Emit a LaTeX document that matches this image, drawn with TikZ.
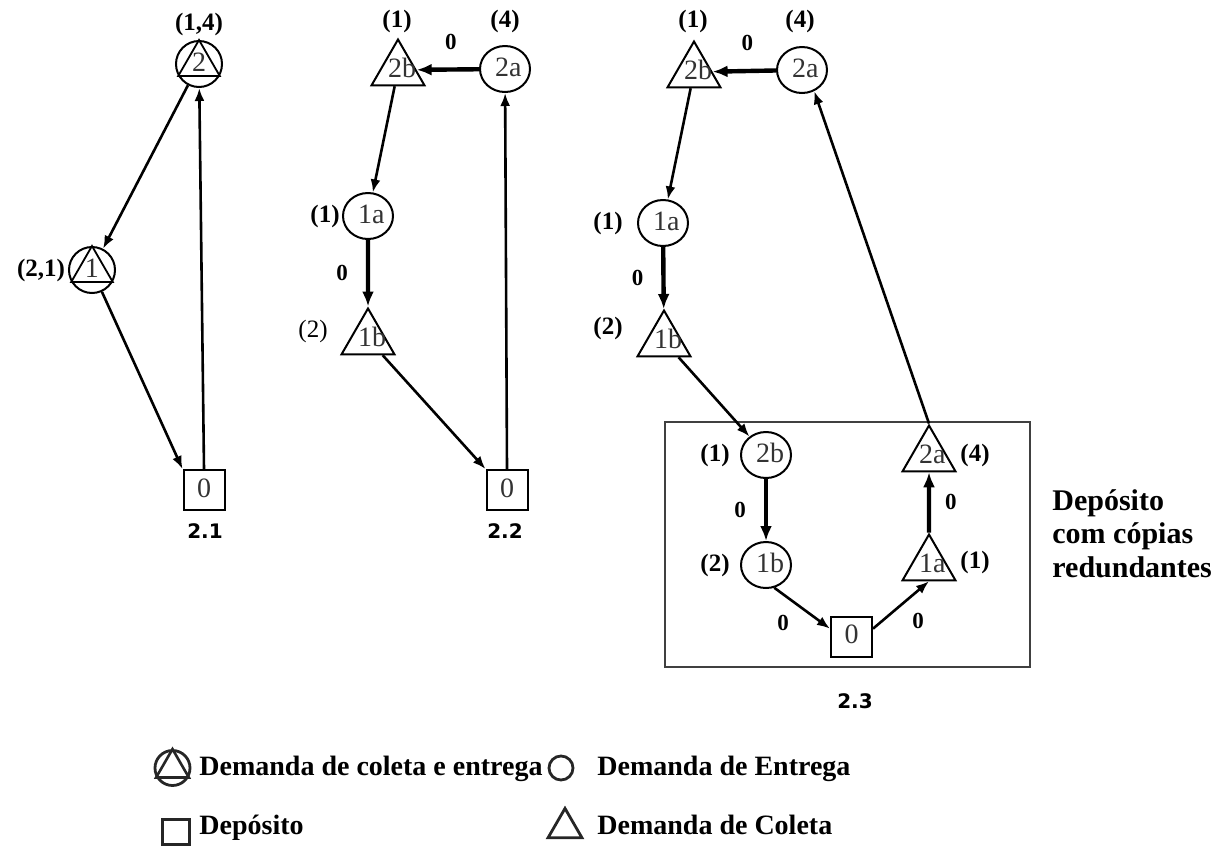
\documentclass[tikz,border=0pt]{standalone}
\usepackage{fontspec}
\setmainfont{Liberation Serif}
\newfontfamily\capfont{DejaVu Sans}
\usetikzlibrary{shapes.geometric,arrows.meta}
\begin{document}
\begin{tikzpicture}[x=0.5pt,y=-0.5pt,
  lab/.style={font=\fontsize{12.5}{15}\selectfont\bfseries, inner sep=0pt},
  labr/.style={font=\fontsize{12.5}{15}\selectfont, inner sep=0pt},
  zero/.style={font=\fontsize{11.5}{13}\selectfont\bfseries, inner sep=0pt},
  nt/.style={font=\fontsize{14}{16}\selectfont, text=black!80, text width=10pt, align=center, text height=7pt, text depth=0pt},
  cnode/.style={circle, draw, line width=1pt, minimum size=23pt, inner sep=0pt, nt},
  enode/.style={ellipse, draw, line width=1pt, minimum width=25pt, minimum height=23pt, inner sep=0pt, nt},
  tnode/.style={regular polygon, regular polygon sides=3, draw, line width=1pt, minimum size=30.5pt, inner sep=0pt, nt},
  snode/.style={rectangle, draw, line width=1pt, minimum width=20.5pt, minimum height=20pt, inner sep=0pt, nt},
  arr/.style={-{Latex[length=6.5pt,width=5pt]}, line width=1.3pt},
  tarr/.style={-{Latex[length=7.5pt,width=6pt]}, line width=2.2pt},
  figcap/.style={font=\capfont\bfseries\fontsize{10}{12}\selectfont, inner sep=0pt},
  leg/.style={font=\fontsize{14}{16}\selectfont\bfseries, inner sep=0pt, anchor=base west},
  legicon/.style={draw=black!85, line width=1.4pt, inner sep=0pt},
]
\useasboundingbox (0,0) rectangle (1232,847);

% ---------- 2.1 ----------
\node[cnode] (a2) at (199,64) {2};
\node[cnode] (a1) at (92,270) {1};
\node[snode] (a0) at (204,490) {0};
\foreach \n in {a2,a1}{\draw[line width=0.9pt] (\n.north) -- (\n.210) -- (\n.330) -- cycle;}
\node[lab] (la2) at (199,24) {(1,4)};
\node[lab] (la1) at (41,270) {(2,1)};
\draw[arr] (a2) -- (a1);
\draw[arr] (a1) -- (a0.north west);
\draw[arr] (a0.north) -- (a2);
\node[figcap] (c1) at (205,531) {2.1};

% ---------- 2.2 ----------
\node[tnode] (b2b) at (398,70) {2b};
\node[enode] (b2a) at (505,69) {2a};
\node[enode] (b1a) at (368,216) {1a};
\node[tnode] (b1b) at (368,339) {1b};
\node[snode] (b0) at (507,490) {0};
\node[lab] (lb2b) at (397,21) {(1)};
\node[lab] (lb2a) at (505,21) {(4)};
\node[lab] (lb1a) at (325,216) {(1)};
\node[labr] (lb1b) at (313,331) {(2)};
\draw[tarr] (b2a) -- (b2b) node[zero, pos=0.45, above=9pt] (zb1) {0};
\draw[arr] (b2b) -- (b1a);
\draw[tarr] (b1a) -- (b1b) node[zero, midway, left=9pt] (zb2) {0};
\draw[arr] (b1b) -- (b0.north west);
\draw[arr] (b0.north) -- (b2a);
\node[figcap] (c2) at (505,531) {2.2};

% ---------- 2.3 ----------
\node[tnode] (e2b) at (694,72) {2b};
\node[enode] (e2a) at (802,70) {2a};
\node[enode] (e1a) at (663,223) {1a};
\node[tnode] (e1b) at (664,341) {1b};
\node[lab] (le2b) at (693,21) {(1)};
\node[lab] (le2a) at (800,21) {(4)};
\node[lab] (le1a) at (608,223) {(1)};
\node[lab] (le1b) at (608,328) {(2)};

\draw[line width=0.8pt, draw=black!75] (665,422) rectangle (1030,667);
\node[enode] (d2b) at (766,455) {2b};
\node[enode] (d1b) at (766,565) {1b};
\node[snode] (d0) at (851.5,636.5) {0};
\node[tnode] (d1a) at (929,565) {1a};
\node[tnode] (d2a) at (929,456) {2a};
\node[lab] (ld2b) at (715,455) {(1)};
\node[lab] (ld1b) at (715,565) {(2)};
\node[lab] (ld2a) at (975,455) {(4)};
\node[lab] (ld1a) at (975,562) {(1)};

\draw[tarr] (e2a) -- (e2b) node[zero, pos=0.45, above=9pt] (ze1) {0};
\draw[arr] (e2b) -- (e1a);
\draw[tarr] (e1a) -- (e1b) node[zero, midway, left=9pt] (ze2) {0};
\draw[arr] (e1b) -- (d2b);
\draw[tarr] (d2b) -- (d1b) node[zero, midway, left=9pt] (zd1) {0};
\draw[arr] (d1b.-70) -- (d0.160);
\draw[arr] (d0.20) -- (d1a.south);
\draw[tarr] (d1a) -- (d2a) node[zero, midway, right=7pt] (zd2) {0};
\draw[arr] (d2a.north) -- (e2a.-60);
\node[zero] (zd3) at (783,623) {0};
\node[zero] (zd4) at (918,621) {0};
\node[figcap] (c3) at (855,701) {2.3};

\node[leg, font=\fontsize{15}{17}\selectfont\bfseries] (dep1) at (1052,510) {Depósito};
\node[leg, font=\fontsize{15}{17}\selectfont\bfseries] (dep2) at (1052,543) {com cópias};
\node[leg, font=\fontsize{15}{17}\selectfont\bfseries] (dep3) at (1052,577) {redundantes};

% ---------- legend ----------
\node[legicon, circle, minimum size=17.5pt] (ic1) at (172.5,768) {};
\draw[line width=1.3pt, draw=black!85] (ic1.north) -- (ic1.210) -- (ic1.330) -- cycle;
\node[leg] (t1) at (199,775) {Demanda de coleta e entrega};
\node[legicon, circle, minimum size=12pt] (ic2) at (561,768) {};
\node[leg] (t2) at (597,775) {Demanda de Entrega};
\node[legicon, rectangle, line width=1.7pt, minimum width=13.5pt, minimum height=12.5pt] (ic3) at (176,832) {};
\node[leg] (t3) at (199,834) {Depósito};
\node[legicon, regular polygon, regular polygon sides=3, minimum size=19.6pt] (ic4) at (565,828) {};
\node[leg] (t4) at (597,834) {Demanda de Coleta};
\end{tikzpicture}
\end{document}
